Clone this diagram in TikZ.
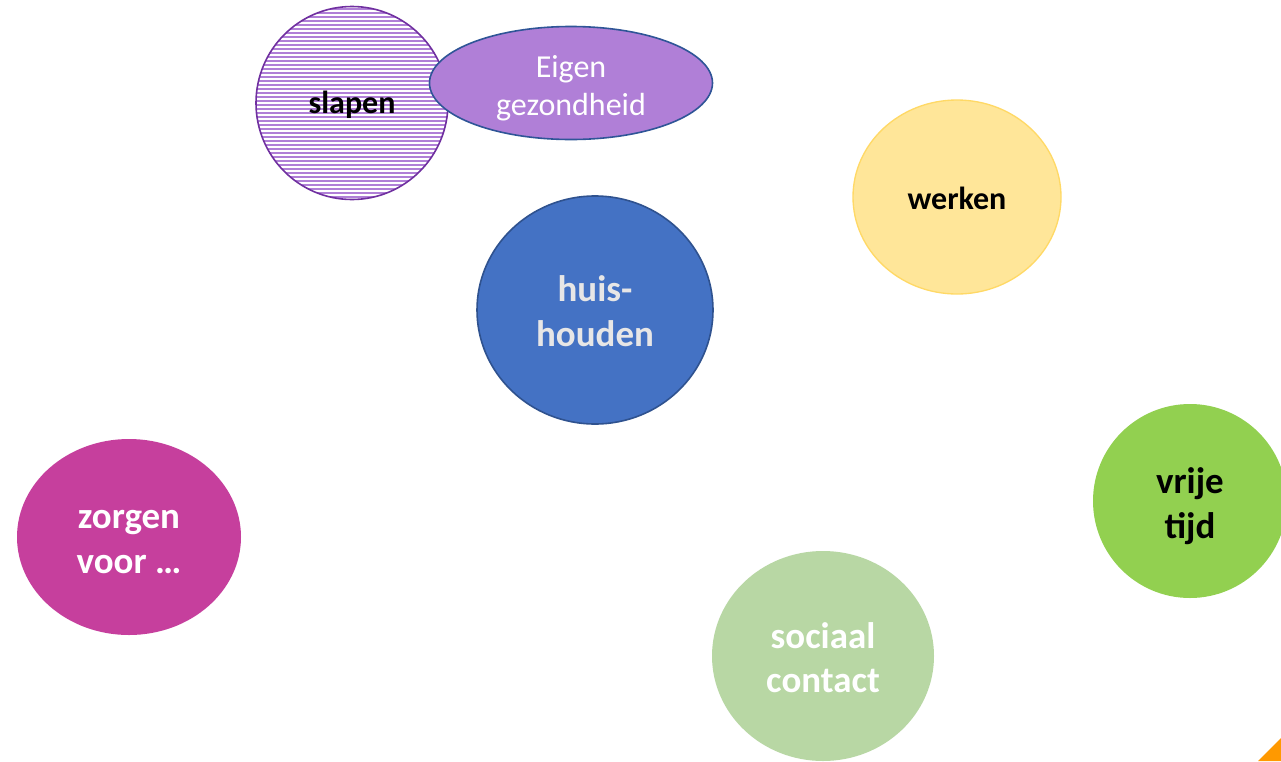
\documentclass[tikz,border=0pt]{standalone}
\usepackage{fontspec}
\setmainfont{Carlito}
\usetikzlibrary{
    shapes.geometric, % ellipse nodes
    patterns.meta     % striped fill of the sleep circle
}
\newcommand{\px}{0.75pt}
\definecolor{sleepline}{HTML}{7030A0}
\definecolor{sleepfill}{HTML}{B07FD7}
\definecolor{healthfill}{HTML}{B07FD7}
\definecolor{healthline}{HTML}{2F5597}
\definecolor{workfill}{HTML}{FFE699}
\definecolor{workline}{HTML}{FFD966}
\definecolor{housefill}{HTML}{4472C4}
\definecolor{houseline}{HTML}{2F528F}
\definecolor{housetext}{HTML}{E7E6E6}
\definecolor{freefill}{HTML}{92D050}
\definecolor{carefill}{HTML}{C63F9D}
\definecolor{socialfill}{HTML}{B8D7A4}
\definecolor{cornerfill}{HTML}{FF9900}
\tikzset{
    activity/.style={ellipse, inner sep=0pt},
    big text/.style={align=center, font=\fontsize{27.7}{33.5}\selectfont\bfseries},
    small text/.style={align=center, font=\fontsize{24}{28.5}\selectfont},
    small bold/.style={align=center, font=\fontsize{24}{28.5}\selectfont\bfseries}
}

\begin{document}
\begin{tikzpicture}[x=\px, y=-\px]
        % canvas
        \useasboundingbox[fill=white] (0,0) rectangle (1281,761);

        % slapen, striped
        \node [activity, draw=sleepline, line width=1.2pt,
            pattern={Lines[angle=0, distance=3pt, line width=1.5pt]},
            pattern color=sleepfill,
            minimum width=192*\px, minimum height=193*\px,
            label={[small bold, yshift=-2*\px]center:slapen}]
            (slapen) at (352,103) {};

        % eigen gezondheid, over the sleep circle
        \node [activity, fill=healthfill, draw=healthline, line width=1.2pt,
            minimum width=283*\px, minimum height=113*\px,
            label={[small text, text=white, yshift=-5.5*\px]center:{Eigen\\gezondheid}}]
            (gezond) at (571,83) {};

        % werken
        \node [activity, fill=workfill, draw=workline, line width=1pt,
            minimum width=208*\px, minimum height=194*\px,
            label={[small bold, yshift=-1*\px]center:werken}]
            (werken) at (957,197) {};

        % huishouden
        \node [activity, fill=housefill, draw=houseline, line width=1.2pt,
            minimum width=236*\px, minimum height=228*\px,
            label={[big text, text=housetext, yshift=-1*\px]center:{huis-\\houden}}]
            (huis) at (595,310) {};

        % vrije tijd
        \node [activity, fill=freefill,
            minimum width=194*\px, minimum height=194*\px,
            label={[big text, yshift=-5*\px]center:{vrije\\tijd}}]
            (vrij) at (1190,501) {};

        % zorgen voor
        \node [activity, fill=carefill,
            minimum width=224*\px, minimum height=196*\px,
            label={[big text, text=white, yshift=-5*\px]center:{zorgen\\voor \dots}}]
            (zorgen) at (129,537) {};

        % sociaal contact
        \node [activity, fill=socialfill,
            minimum width=222*\px, minimum height=210*\px,
            label={[big text, text=white, yshift=-1.5*\px]center:{sociaal\\contact}}]
            (sociaal) at (823,656) {};

        % corner mark
        \fill [cornerfill] (1281,738) -- (1281,761) -- (1258,761) -- cycle;
    \end{tikzpicture}
\end{document}
